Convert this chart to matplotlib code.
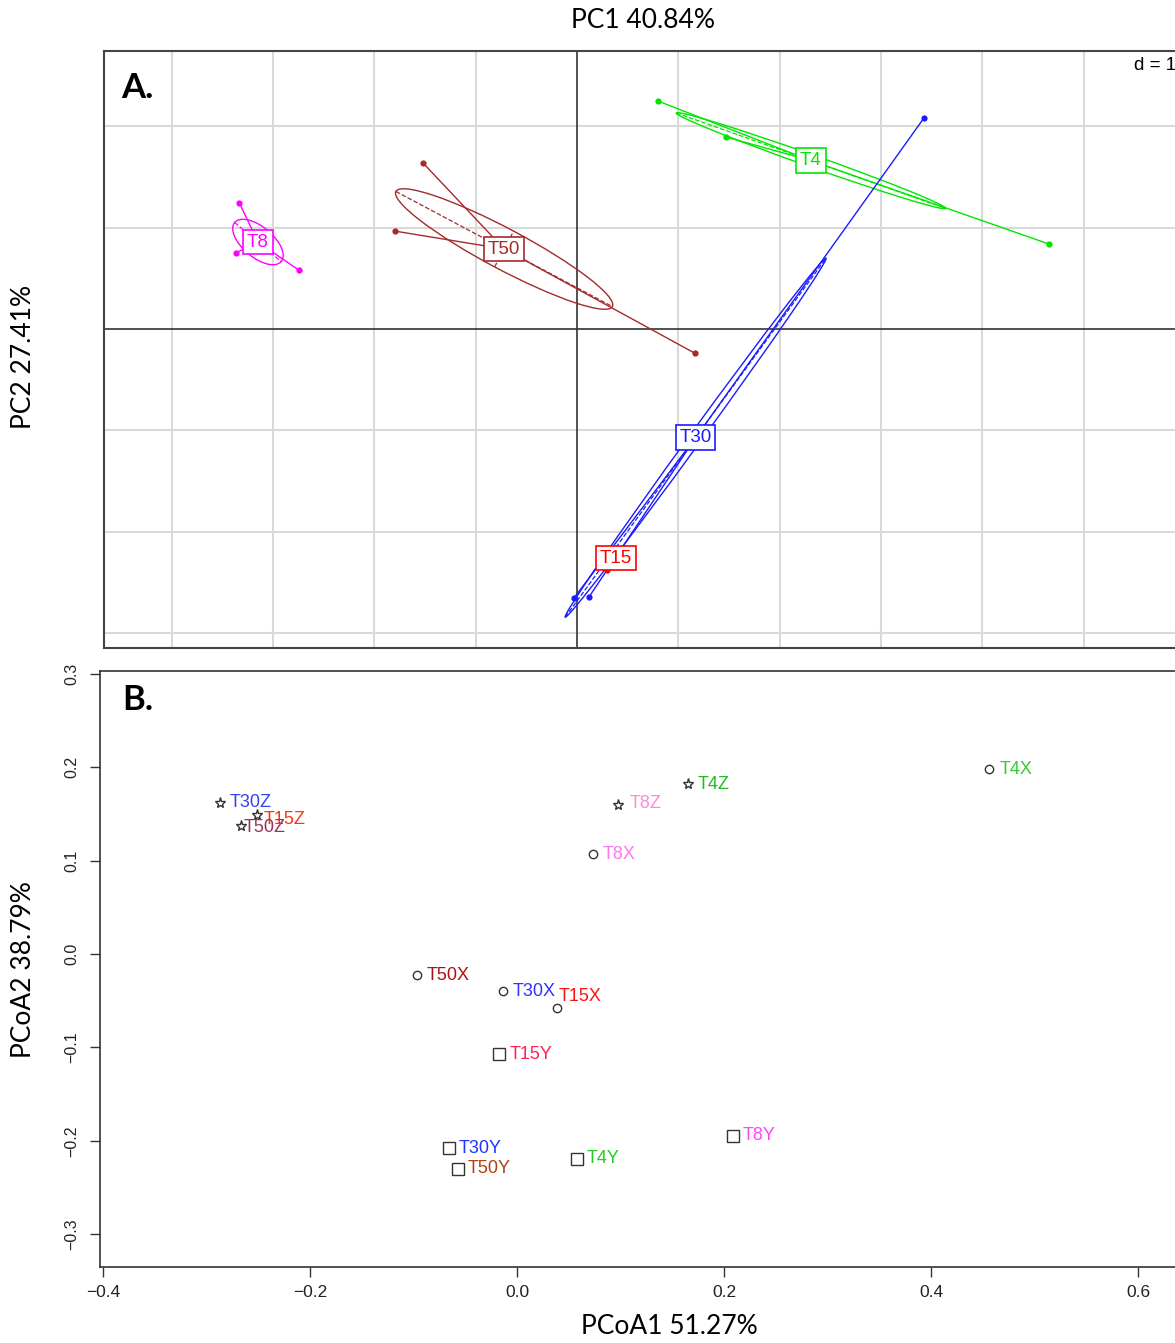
import numpy as np
import matplotlib.pyplot as plt
from matplotlib.patches import Ellipse

# ---------- panel A data (PCA scores, grid units d = 1) ----------
a_groups = ["T8", "T50", "T4", "T15", "T30"]
a_colors = ["#FF00FF", "#A52A2A", "#00E600", "#FF0000", "#1A1AFF"]
a_x = [
    [-3.333, -3.369, -2.747],
    [-1.523, -1.800, 1.165],
    [0.798, 1.471, 4.659],
    [0.296, 0.430, 0.430],
    [3.425, -0.030, 0.118],
]
a_y = [
    [1.244, 0.750, 0.582],
    [1.642, 0.967, -0.240],
    [2.251, 1.895, 0.839],
    [-2.379, -2.202, -2.202],
    [2.083, -2.655, -2.646],
]
# ellipse semi-axes and angle (deg)
ell_a = [0.30, 1.21, 1.41, 0.15, 2.19]
ell_b = [0.15, 0.20, 0.06, 0.02, 0.06]
ell_ang = [-40, -28, -19.5, 54, 54]

# ---------- panel B data (PCoA) ----------
b_labels = ["T30Z", "T15Z", "T50Z", "T4Z", "T8Z",
            "T8X", "T4X", "T50X", "T30X", "T15X",
            "T15Y", "T30Y", "T50Y", "T4Y", "T8Y"]
b_x = [-0.287, -0.2515, -0.267, 0.165, 0.098,
       0.0734, 0.4556, -0.0966, -0.0133, 0.0386,
       -0.017, -0.066, -0.057, 0.0577, 0.2087]
b_y = [0.162, 0.149, 0.137, 0.182, 0.160,
       0.107, 0.198, -0.0226, -0.0398, -0.0577,
       -0.1075, -0.208, -0.230, -0.219, -0.1946]
b_colors = ["#3344EE", "#FF3311", "#993355", "#22BB22", "#FF88DD",
            "#FF77EE", "#33CC33", "#AA1111", "#3333FF", "#FF1111",
            "#FF2255", "#2233FF", "#AA4411", "#22CC22", "#FF44FF"]

W, H = 1175, 1343
fig = plt.figure(figsize=(W / 100, H / 100), dpi=100)


def px_axes(left, top, right, bottom):
    return fig.add_axes([left / W, 1 - bottom / H, (right - left) / W, (bottom - top) / H])


# ================= panel A =================
u = 101.3
ox, oy = 577, 329
axA = px_axes(104, 51, 1190, 648)
axA.set_xlim((104 - ox) / u, (1190 - ox) / u)
axA.set_ylim((oy - 648) / u, (oy - 51) / u)
for gx in range(-4, 7):
    if gx != 0:
        axA.axvline(gx, color="#D9D9D9", lw=1.5, zorder=0)
for gy in range(-3, 3):
    if gy != 0:
        axA.axhline(gy, color="#D9D9D9", lw=1.5, zorder=0)
axA.axvline(0, color="#333333", lw=1.2, zorder=1)
axA.axhline(0, color="#333333", lw=1.2, zorder=1)

for g, c, xs, ys, ea, eb, ang in zip(a_groups, a_colors, a_x, a_y, ell_a, ell_b, ell_ang):
    cx, cy = np.mean(xs), np.mean(ys)
    axA.add_patch(Ellipse((cx, cy), 2 * ea, 2 * eb, angle=ang, fill=False,
                          ec=c, lw=1.0, zorder=2))
    t = np.deg2rad(ang)
    axA.plot([cx - ea * np.cos(t), cx + ea * np.cos(t)],
             [cy - ea * np.sin(t), cy + ea * np.sin(t)], ls="--", color=c, lw=0.9, zorder=2)
    axA.plot([cx + eb * np.sin(t), cx - eb * np.sin(t)],
             [cy - eb * np.cos(t), cy + eb * np.cos(t)], ls="--", color=c, lw=0.9, zorder=2)
    for px_, py_ in zip(xs, ys):
        axA.plot([cx, px_], [cy, py_], color=c, lw=1.0, zorder=3)
    axA.plot(xs, ys, "o", color=c, ms=4.5, mec="none", zorder=4)

for g, c, xs, ys in zip(a_groups, a_colors, a_x, a_y):
    axA.text(np.mean(xs), np.mean(ys), g, color=c, fontsize=13.5, family="Liberation Sans",
             ha="center", va="center", zorder=6,
             bbox=dict(boxstyle="square,pad=0.2", fc="white", ec=c, lw=1.2))

axA.set_xticks([])
axA.set_yticks([])
for s in axA.spines.values():
    s.set_color("#444444")
    s.set_linewidth(1.5)
fig.text(121 / W, 1 - 88 / H, "A.", fontsize=25, fontweight="bold", family="Lato",
         va="center", ha="left")
fig.text(1134 / W, 1 - 66 / H, "d = 1", fontsize=13.5, family="Liberation Sans",
         va="center", ha="left")

# ================= panel B =================
axB = px_axes(100, 671, 1215, 1267)
axB.set_xlim(-0.4029, -0.4029 + 1115 / 1035)
axB.set_ylim(-0.335, 0.303)

markers = {"Z": "*", "X": "o", "Y": "s"}
msize = {"Z": 8, "X": 6, "Y": 8}
offsets = {"T15Z": (5, -3), "T50Z": (2, -1), "T15X": (1, 8), "T8Z": (8, 1), "T4X": (8, 0)}
for lab, x, y, c in zip(b_labels, b_x, b_y, b_colors):
    k = lab[-1]
    axB.plot(x, y, markers[k], ms=msize[k], mfc="none", mec="#333333", mew=1.0, zorder=3)
    dx, dy = offsets.get(lab, (7, 0))
    axB.annotate(lab, (x, y), xytext=(dx, dy), textcoords="offset points",
                 color=c, fontsize=13, family="Liberation Sans",
                 ha="left", va="center", zorder=4)

axB.set_xticks([-0.4, -0.2, 0.0, 0.2, 0.4, 0.6])
axB.set_xticklabels(["\u22120.4", "\u22120.2", "0.0", "0.2", "0.4", "0.6"])
axB.set_yticks([-0.3, -0.2, -0.1, 0.0, 0.1, 0.2, 0.3])
axB.set_yticklabels(["\u22120.3", "\u22120.2", "\u22120.1", "0.0", "0.1", "0.2", "0.3"])
axB.tick_params(direction="out", length=7, width=1.0, color="#333333",
                labelcolor="#222222", pad=6)
axB.tick_params(axis="x", labelsize=12.5)
axB.tick_params(axis="y", labelrotation=90, pad=8, labelsize=11.5)
for lbl in axB.get_yticklabels():
    lbl.set_va("center")
    lbl.set_family("Liberation Sans")
for lbl in axB.get_xticklabels():
    lbl.set_family("Liberation Sans")
for s in axB.spines.values():
    s.set_color("#333333")
    s.set_linewidth(1.2)
fig.text(122 / W, 1 - 700 / H, "B.", fontsize=25, fontweight="bold", family="Lato",
         va="center", ha="left")

# ---------- axis titles ----------
fig.text(643 / W, 1 - 21 / H, "PC1 40.84%", fontsize=19, family="Lato", ha="center", va="center")
fig.text(24 / W, 1 - 357 / H, "PC2 27.41%", fontsize=19, family="Lato", ha="center",
         va="center", rotation=90)
fig.text(669 / W, 1 - 1327 / H, "PCoA1 51.27%", fontsize=19, family="Lato", ha="center", va="center")
fig.text(24 / W, 1 - 970 / H, "PCoA2 38.79%", fontsize=19, family="Lato", ha="center",
         va="center", rotation=90)

fig.savefig("out.png", dpi=100)
